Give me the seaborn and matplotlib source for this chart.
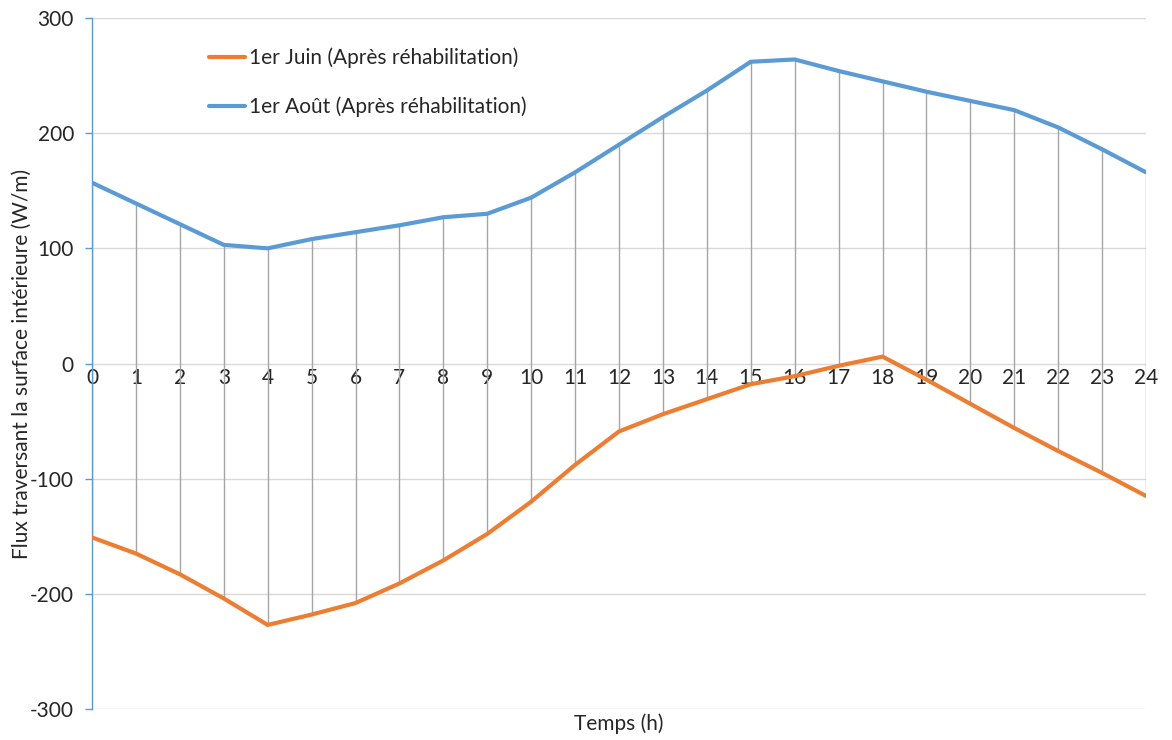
import numpy as np
import pandas as pd
import matplotlib
matplotlib.use("Agg")
import matplotlib.pyplot as plt
import seaborn as sns

# Heures de la journée
hours = list(range(25))

# Flux (W/m) – 1er juin, après réhabilitation
juin = [-151, -165, -183, -204, -227, -218, -208, -191, -171, -148,
        -120, -88, -59, -44, -31, -18, -11, -2, 6, -14,
        -35, -56, -76, -95, -115]

# Flux (W/m) – 1er août, après réhabilitation
aout = [157, 139, 121, 103, 100, 108, 114, 120, 127, 130,
        144, 166, 190, 214, 237, 262, 264, 254, 245, 236,
        228, 220, 205, 186, 166]

label_juin = "1er Juin (Après réhabilitation)"
label_aout = "1er Août (Après réhabilitation)"

sns.set_style("white")
plt.rcParams["font.family"] = ["Lato", "DejaVu Sans"]
plt.rcParams["axes.unicode_minus"] = False

FS = 15
TXT = "#262626"

df = pd.DataFrame({
    "Temps": hours * 2,
    "Flux": juin + aout,
    "Série": [label_juin] * len(hours) + [label_aout] * len(hours),
})

fig = plt.figure(figsize=(11.72, 7.40), dpi=100)
ax = fig.add_axes([92 / 1172, 1 - 709 / 740, (1146 - 92) / 1172, (709 - 18) / 740])

# Lignes haut-bas entre les deux séries
ax.vlines(hours, np.minimum(juin, aout), np.maximum(juin, aout),
          colors="#A5A5A5", linewidth=1.0, zorder=2)

sns.lineplot(data=df, x="Temps", y="Flux", hue="Série",
             palette={label_juin: "#ED7D31", label_aout: "#5B9BD5"},
             linewidth=3.0, ax=ax, zorder=3)

ax.set_xlim(0, 24)
ax.set_ylim(-300, 300)
ax.set_yticks(range(-300, 301, 100))
ax.set_xticks(hours)
ax.set_xticklabels([str(h) for h in hours])

ax.yaxis.grid(True, color="#D9D9D9", linewidth=1.0)
ax.xaxis.grid(False)
ax.set_axisbelow(True)

for side in ["top", "right"]:
    ax.spines[side].set_visible(False)
ax.spines["bottom"].set_position(("data", 0))
ax.spines["bottom"].set_visible(False)
ax.spines["left"].set_color("#5B9BD5")
ax.spines["left"].set_linewidth(1.0)

ax.tick_params(axis="y", colors="#5B9BD5", labelcolor=TXT,
               length=5, width=1.0, labelsize=FS, pad=8, direction="out", left=True)
ax.tick_params(axis="x", length=0, labelsize=FS, labelcolor=TXT, pad=3)

ax.set_xlabel("Temps (h)", fontsize=FS, color=TXT)
ax.set_ylabel("Flux traversant la surface intérieure (W/m)", fontsize=FS, color=TXT)
ax.xaxis.set_label_coords(0.5, -0.006)
ax.yaxis.set_label_coords(-0.057, 0.5)

leg = ax.legend(loc="upper left", bbox_to_anchor=(0.0935, 0.984), frameon=False,
                fontsize=FS, handlelength=1.7, handletextpad=0.2, labelspacing=1.35)
for t in leg.get_texts():
    t.set_color(TXT)

fig.savefig("out.png", dpi=100)
